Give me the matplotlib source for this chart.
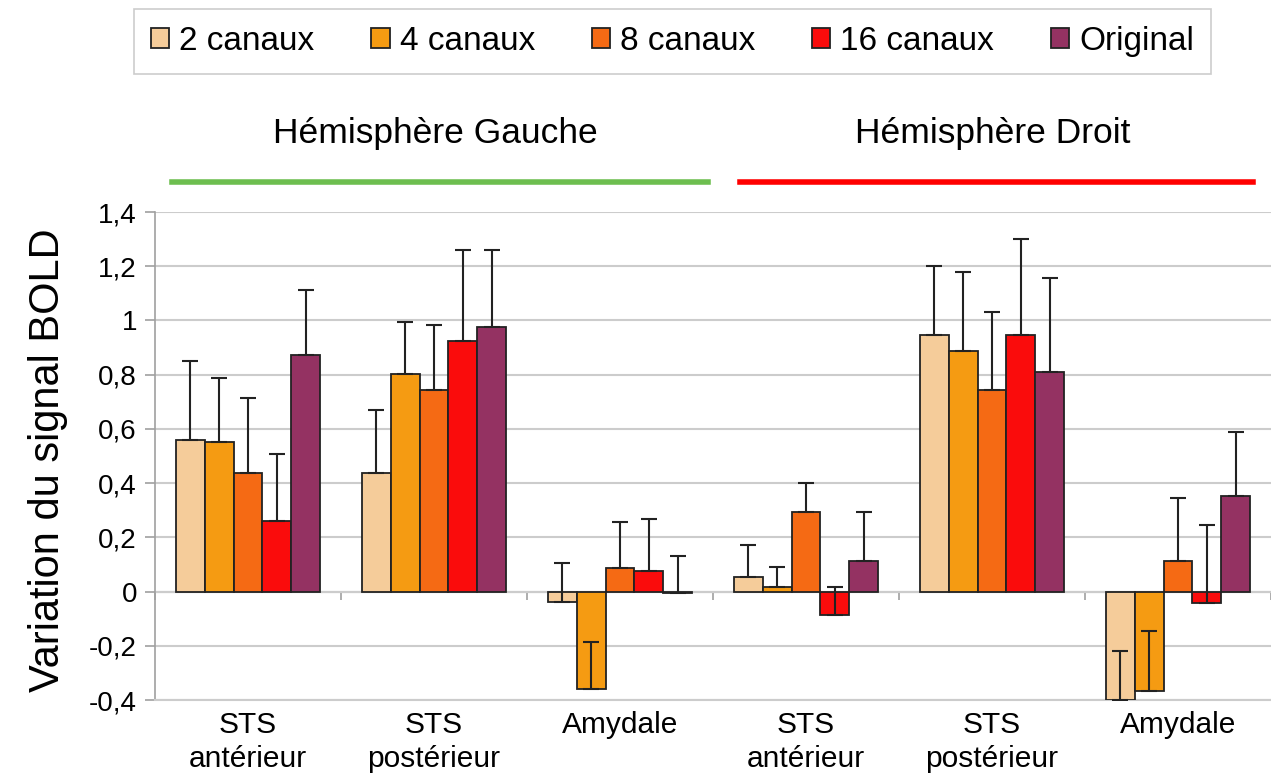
import numpy as np
import matplotlib
matplotlib.use("Agg")
import matplotlib.pyplot as plt
from matplotlib.lines import Line2D
from matplotlib.ticker import FuncFormatter

plt.rcParams['font.family'] = ['Liberation Sans', 'DejaVu Sans']

categories = ['STS\nantérieur', 'STS\npostérieur', 'Amydale',
              'STS\nantérieur', 'STS\npostérieur', 'Amydale']
series = ['2 canaux', '4 canaux', '8 canaux', '16 canaux', 'Original']
colors = ['#F5CC9A', '#F59B12', '#F56A14', '#FA0C0C', '#943262']

# mean BOLD change per region (left hemisphere then right)
canaux2 = [0.558, 0.438, -0.038, 0.055, 0.946, -0.399]
canaux4 = [0.551, 0.801, -0.358, 0.015, 0.888, -0.368]
canaux8 = [0.438, 0.745, 0.087, 0.294, 0.744, 0.112]
canaux16 = [0.262, 0.926, 0.075, -0.086, 0.946, -0.043]
original = [0.872, 0.977, -0.005, 0.111, 0.808, 0.351]

# upper error bars
err2 = [0.294, 0.231, 0.144, 0.115, 0.256, 0.179]
err4 = [0.238, 0.195, 0.171, 0.074, 0.290, 0.224]
err8 = [0.277, 0.237, 0.171, 0.107, 0.288, 0.232]
err16 = [0.244, 0.332, 0.194, 0.101, 0.355, 0.287]
err_orig = [0.239, 0.281, 0.137, 0.183, 0.349, 0.238]

values = [canaux2, canaux4, canaux8, canaux16, original]
errors = [err2, err4, err8, err16, err_orig]

fig = plt.figure(figsize=(12.71, 7.75), dpi=100)
ax = fig.add_axes([155 / 1271, 1 - 700 / 775, 1116 / 1271, 488 / 775])

x = np.arange(len(categories))
w = 0.155
handles = []
for j, (name, vals, errs, col) in enumerate(zip(series, values, errors, colors)):
    pos = x + (j - 2) * w
    b = ax.bar(pos, vals, w, color=col, edgecolor='#222222', linewidth=1.3,
               label=name, zorder=3)
    ax.errorbar(pos, vals, yerr=[np.zeros(len(errs)), errs], fmt='none',
                ecolor='#222222', elinewidth=1.5, capsize=5.5, capthick=1.5,
                zorder=4)
    handles.append(b)


def fr_fmt(v, p):
    if abs(v) < 1e-9:
        return '0'
    return f"{round(v, 1):g}".replace('.', ',')


ax.set_xlim(-0.5, 5.5)
ax.set_ylim(-0.4, 1.4)
ax.set_yticks(np.arange(-0.4, 1.41, 0.2))
ax.yaxis.set_major_formatter(FuncFormatter(fr_fmt))
ax.set_xticks(x)
ax.set_xticklabels(categories, fontsize=21.5, linespacing=1.25)
ax.tick_params(axis='x', length=0, pad=8)
ax.tick_params(axis='y', labelsize=20, length=7, color='#A0A0A0', width=1.2, pad=6)
ax.grid(axis='y', color='#CCCCCC', linewidth=1.5, zorder=0)
ax.set_axisbelow(True)
for s in ['top', 'right']:
    ax.spines[s].set_visible(False)
ax.spines['left'].set_color('#A0A0A0')
ax.spines['bottom'].set_color('#CCCCCC')
ax.spines['left'].set_linewidth(1.2)
ax.spines['bottom'].set_linewidth(1.5)

# category axis crossing at zero, with separator ticks
sec = ax.secondary_xaxis(0.4 / 1.8)
sec.set_xticks(np.arange(-0.5, 6, 1.0))
sec.tick_params(length=6, width=1.2, color='#A0A0A0', labelbottom=False)
sec.spines['bottom'].set_color('#B8B8B8')
sec.spines['bottom'].set_linewidth(1.5)

ax.set_ylabel('Variation du signal BOLD', fontsize=30)
ax.yaxis.set_label_coords((68 - 155) / 1116, (700 - 460) / 488)

# hemisphere headers
fig.text(435 / 1271, 1 - 133 / 775, 'Hémisphère Gauche', fontsize=25.5,
         ha='center', va='center')
fig.text(993 / 1271, 1 - 133 / 775, 'Hémisphère Droit', fontsize=25.5,
         ha='center', va='center')
fig.add_artist(Line2D([172 / 1271, 708 / 1271], [1 - 182 / 775] * 2,
                      color='#6DBE4F', linewidth=4, transform=fig.transFigure))
fig.add_artist(Line2D([740 / 1271, 1253 / 1271], [1 - 182 / 775] * 2,
                      color='#FF0000', linewidth=4, transform=fig.transFigure))

leg = fig.legend(handles=handles, labels=series, loc='center',
                 bbox_to_anchor=(672.5 / 1271, 1 - 41.5 / 775), ncol=5,
                 fontsize=24, handlelength=0.55, handleheight=0.55,
                 handletextpad=0.3, columnspacing=1.7, borderpad=0.5,
                 borderaxespad=0, fancybox=False, frameon=True)
leg.get_frame().set_edgecolor('#C0C0C0')
leg.get_frame().set_linewidth(1.2)

fig.savefig('out.png', dpi=100)
